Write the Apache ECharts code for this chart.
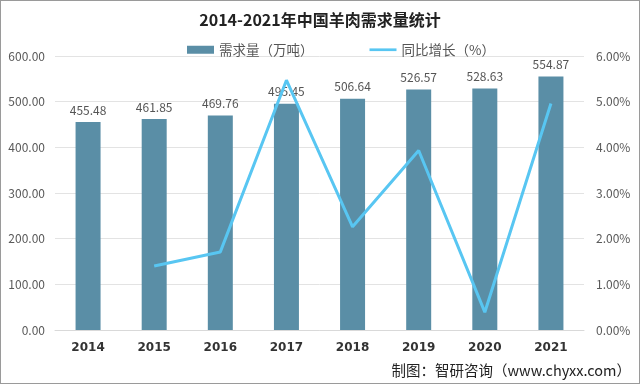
<!DOCTYPE html>
<html><head><meta charset="utf-8">
<script src="https://cdn.jsdelivr.net/npm/echarts@6/dist/echarts.min.js"></script>
<style>html,body{margin:0;padding:0;background:#fff}#c{width:640px;height:384px;box-sizing:border-box;border:1px solid #9a9a9a}</style>
</head><body><div id="c"></div>
<script>
const categories = ['2014','2015','2016','2017','2018','2019','2020','2021'];
const demand = [455.48,461.85,469.76,495.45,506.64,526.57,528.63,554.87];
const growth = [null,1.40,1.71,5.47,2.26,3.93,0.39,4.96];
const leftTicks = {min:0,max:600,interval:100};
const rightTicks = {min:0,max:6,interval:1};

const chart = echarts.init(document.getElementById('c'));
const font = '"Microsoft YaHei","Noto Sans CJK SC","Noto Sans",sans-serif';
chart.setOption({
  animation:false,
  title:{text:'2014-2021年中国羊肉需求量统计',left:'center',top:6,
    textStyle:{fontSize:16,fontWeight:'bold',color:'#222',fontFamily:font}},
  legend:{top:37,left:181,itemGap:56,itemWidth:27,itemHeight:8,
    textStyle:{fontSize:13.5,color:'#555',fontFamily:font},
    data:[{name:'需求量（万吨）',icon:'rect'},{name:'同比增长（%）',icon:'path://M0,0H30V3H0Z'}]},
  grid:{left:54,right:55,top:55,bottom:53},
  xAxis:{type:'category',data:categories,
    axisLine:{lineStyle:{color:'#d9d9d9'}},axisTick:{show:false},
    axisLabel:{color:'#333',fontWeight:'bold',fontSize:12,margin:12,fontFamily:'"DejaVu Sans",sans-serif'}},
  yAxis:[
    {type:'value',min:leftTicks.min,max:leftTicks.max,interval:leftTicks.interval,
     axisLabel:{formatter:v=>v.toFixed(2),color:'#595959',fontSize:12,margin:10,fontFamily:font},
     axisLine:{show:false},axisTick:{show:false},
     splitLine:{lineStyle:{color:'#e3e3e3'}}},
    {type:'value',min:rightTicks.min,max:rightTicks.max,interval:rightTicks.interval,
     axisLabel:{formatter:v=>v.toFixed(2)+'%',color:'#595959',fontSize:12,margin:12,fontFamily:font},
     axisLine:{show:false},axisTick:{show:false},splitLine:{show:false}}
  ],
  series:[
    {name:'需求量（万吨）',type:'bar',data:demand,barWidth:25,
     itemStyle:{color:'#5a8ea6'},
     label:{show:true,position:'top',distance:6,formatter:p=>p.value.toFixed(2),color:'#555',fontSize:12,fontFamily:font}},
    {name:'同比增长（%）',type:'line',yAxisIndex:1,data:growth,
     symbol:'none',lineStyle:{color:'#58c6f2',width:3},itemStyle:{color:'#58c6f2'},connectNulls:false}
  ],
  graphic:[{type:'text',right:8,bottom:5,
    style:{text:'制图：智研咨询（www.chyxx.com）',fontSize:14.5,fill:'#222',fontFamily:font}}]
});
</script></body></html>
